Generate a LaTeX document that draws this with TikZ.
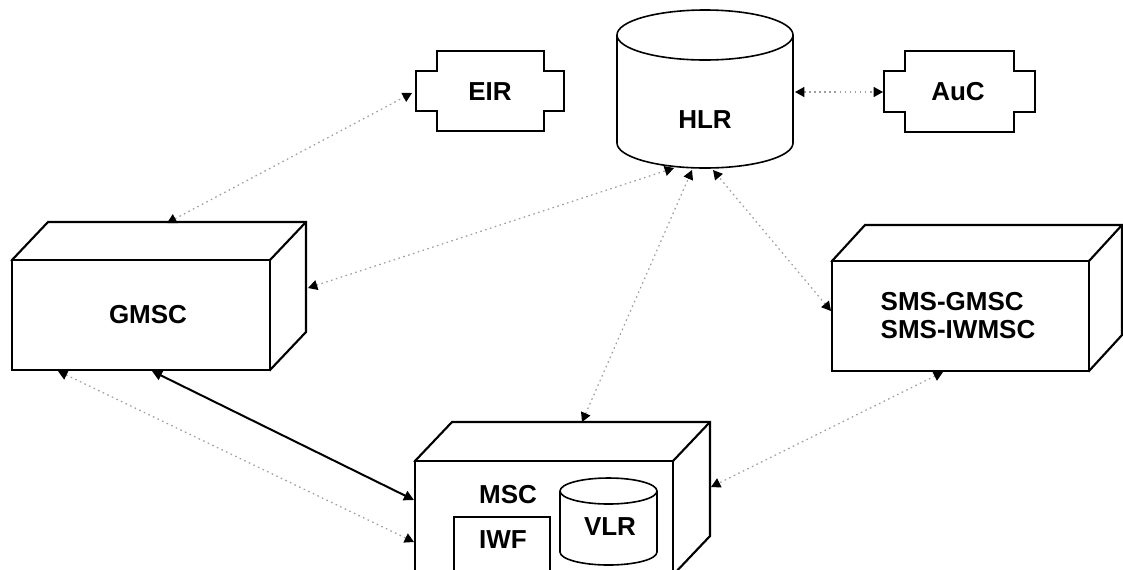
\documentclass[tikz,border=0pt]{standalone}
\usepackage{fontspec}
\setmainfont{Liberation Sans}
\usetikzlibrary{arrows.meta,fit}

% A cuboid seen from the front-left: front face (x1,y1)-(x2,y2), depth offset (dx,dy)
\newcommand{\drawcuboid}[7]{%
  \draw[boxline,fill=white] (#1,#2) -- (#1+#5,#2+#6) -- (#3+#5,#2+#6) -- (#3+#5,#4+#6) -- (#3,#4) -- cycle;
  \draw[boxline] (#3,#2) -- (#3+#5,#2+#6);
  \node[boxline,draw,fill=white,inner sep=0pt,fit={(#1,#2) (#3,#4)}] (#7) {};
}

% An upright cylinder: centre x, top rim y, bottom rim y, radii
\newcommand{\drawdrum}[6]{%
  \draw[#6,fill=white] (#1-#4,#2) -- (#1-#4,#3) arc[start angle=180,end angle=0,x radius=#4,y radius=#5] -- (#1+#4,#2);
  \draw[#6,fill=white] (#1,#2) ellipse[x radius=#4,y radius=#5];
}

\tikzset{
  boxline/.style={line width=1.6pt, line join=miter},
  drumline/.style={line width=1.2pt},
  tabline/.style={line width=1.1pt},
  lbl/.style={font=\fontsize{19.5}{21}\selectfont\bfseries, inner sep=0pt},
  link/.style={draw=black!38, line width=0.9pt, dash pattern=on 1.2pt off 2.6pt,
    arrows={Triangle[length=7pt,width=7.5pt,color=black]-Triangle[length=7pt,width=7.5pt,color=black]}},
  trunk/.style={draw=black, line width=1.5pt,
    arrows={Triangle[length=7.5pt,width=7.5pt]-Triangle[length=7.5pt,width=7.5pt]}},
}

\begin{document}
\begin{tikzpicture}[x=0.75pt,y=-0.75pt]
\clip (0,0) rectangle (1123,569);
\fill[white] (0,0) rectangle (1123,569);

% ---- EIR and AuC (boxes with side tabs) ----
\draw[tabline] (437,51) -- (544,51) -- (544,71) -- (564,71) -- (564,111) -- (544,111)
  -- (544,131) -- (437,131) -- (437,111) -- (416,111) -- (416,71) -- (437,71) -- cycle;
\node[lbl] (eir) at (490,92) {EIR};
\draw[tabline] (905,51) -- (1014,51) -- (1014,71) -- (1035,71) -- (1035,112) -- (1014,112)
  -- (1014,132) -- (905,132) -- (905,112) -- (884,112) -- (884,71) -- (905,71) -- cycle;
\node[lbl] (auc) at (958,92) {AuC};

% ---- HLR database ----
\drawdrum{705}{35}{143}{88}{25}{drumline}
\node[lbl] (hlr) at (705,120) {HLR};

% ---- switching centres ----
\drawcuboid{12}{260}{270}{370}{36}{-38}{gmscbox}
\node[lbl] (gmsc) at (148,315) {GMSC};

\drawcuboid{832}{261}{1089}{371}{33}{-36}{smsbox}
\node[lbl, align=left] (sms) at (958,316) {SMS-GMSC\\SMS-IWMSC};

\drawcuboid{415}{461}{673}{575}{37}{-39}{mscbox}
\node[lbl] (msc) at (508,495) {MSC};
\draw[tabline,line width=1.3pt] (454,580) -- (454,517) -- (550,517) -- (550,580);
\node[lbl] (iwf) at (503,540) {IWF};
\drawdrum{608.5}{491}{552}{48.5}{13}{drumline}
\node[lbl] (vlr) at (610,527) {VLR};

% ---- attachment points ----
\coordinate (eir-w)   at (412,93);
\coordinate (auc-w)   at (883,92);
\coordinate (hlr-e)   at (795,92);
\coordinate (hlr-s1)  at (674,168);
\coordinate (hlr-s2)  at (692,170);
\coordinate (hlr-s3)  at (713,170);
\coordinate (gmsc-n)  at (167,223);
\coordinate (gmsc-e)  at (308,288);
\coordinate (gmsc-s1) at (58,371);
\coordinate (gmsc-s2) at (152,371);
\coordinate (sms-w)   at (831,311);
\coordinate (sms-s)   at (943,372);
\coordinate (msc-n)   at (582,422);
\coordinate (msc-e)   at (711,487);
\coordinate (msc-w1)  at (414,500);
\coordinate (msc-w2)  at (414,542);

% ---- signalling links ----
\draw[link] (gmsc-n) -- (eir-w);
\draw[link] (hlr-e) -- (auc-w);
\draw[link] (gmsc-e) -- (hlr-s1);
\draw[link] (msc-n) -- (hlr-s2);
\draw[link] (sms-w) -- (hlr-s3);
\draw[link] (gmsc-s1) -- (msc-w2);
\draw[link] (sms-s) -- (msc-e);
\draw[trunk] (gmsc-s2) -- (msc-w1);
\end{tikzpicture}
\end{document}
